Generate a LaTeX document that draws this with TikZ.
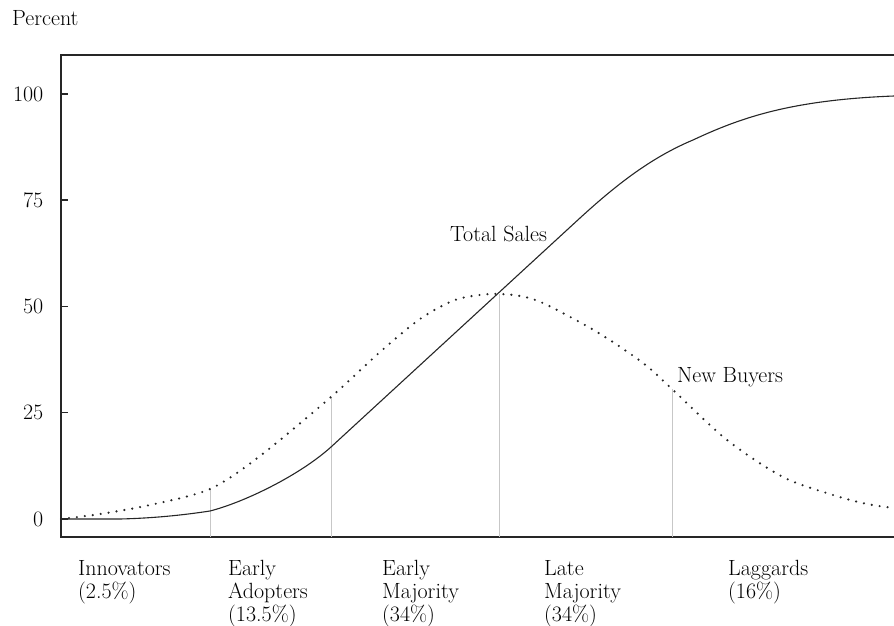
\documentclass[tikz,border=0pt]{standalone}
\usepackage{fontspec}
\begin{document}
\begin{tikzpicture}[x=1pt,y=-1pt,
  lbl/.style={font=\fontsize{22}{23}\selectfont, text=black, inner sep=0pt},
  grp/.style={lbl, anchor=north west, align=left},
  frame/.style={line width=1.3pt, draw=black!85},
  sales/.style={line width=1.1pt, draw=black!85},
  buyers/.style={line width=2.4pt, draw=black!85, line cap=round, dash pattern=on 0pt off 8pt},
  divider/.style={line width=0.9pt, draw=black!22}]
\useasboundingbox (0,0) rectangle (894,626);
% frame
\coordinate (tl) at (61,55);
\coordinate (tr) at (894,55);
\coordinate (bl) at (61,537);
\coordinate (br) at (894,537);
\draw[frame] (tr) -- (tl) -- (bl) -- (br);
% ticks and y labels
\foreach \v/\yy in {100/94,75/200,50/306.5,25/412.5,0/519}{
  \draw[frame] (61,\yy) -- (68,\yy);
  \node[lbl, anchor=east] (y\v) at (43.5,\yy) {\v};
}
\node[lbl, anchor=base west] (percent) at (12,26) {Percent};
% dividers
\foreach \xx/\yy [count=\i] in {210/489,331/397,499/294,672/389}{
  \coordinate (dt\i) at (\xx,\yy);
  \coordinate (db\i) at (\xx,537);
  \draw[divider] (dt\i) -- (db\i);
}
% new buyers (dotted)
\draw[buyers] plot[smooth, tension=0.5] coordinates {(61,519) (100,514) (150,505) (210,489) (260,456) (331,397) (380,352) (420,319) (455,300) (490,294) (520,296) (545,304) (597,332) (643,363) (672,389) (727,440) (783,477) (833,495) (867,504) (894,508)};
% total sales (solid)
\draw[sales] (61,519) -- (120,519) .. controls (160,518) and (190,514) .. (210,511)
  .. controls (245,502) and (300,475) .. (331,447) -- (580,218)
  .. controls (615,186) and (650,158) .. (693,140)
  .. controls (740,118) and (790,100) .. (894,96);
% curve labels
\node[lbl, anchor=base west] (total) at (450,241) {Total Sales};
\node[lbl, anchor=base west] (newb) at (677,382) {New Buyers};
% category labels
\node[grp] (inn) at (78,560) {Innovators\\(2.5\%)};
\node[grp] (ea) at (228,560) {Early\\Adopters\\(13.5\%)};
\node[grp] (em) at (382,560) {Early\\Majority\\(34\%)};
\node[grp] (lm) at (544,560) {Late\\Majority\\(34\%)};
\node[grp] (lag) at (728,560) {Laggards\\(16\%)};
\end{tikzpicture}
\end{document}
